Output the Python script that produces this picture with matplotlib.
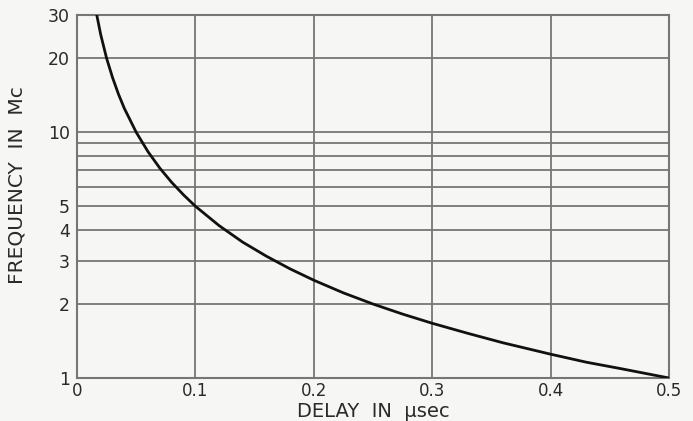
import matplotlib
matplotlib.use("Agg")
import matplotlib.pyplot as plt
from matplotlib.ticker import FixedLocator, NullFormatter, NullLocator

# values: delay (usec) vs frequency (Mc)
delay = [0.0167, 0.02, 0.025, 0.03, 0.035, 0.04, 0.05, 0.06, 0.07, 0.08, 0.09, 0.1,
         0.12, 0.14, 0.16, 0.18, 0.2, 0.225, 0.25, 0.275, 0.3, 0.33, 0.36, 0.4,
         0.43, 0.46, 0.5]
freq = [30, 25, 20, 16.7, 14.3, 12.5, 10, 8.33, 7.14, 6.25, 5.56, 5.0,
        4.17, 3.57, 3.13, 2.78, 2.5, 2.22, 2.0, 1.82, 1.67, 1.52, 1.39, 1.25,
        1.16, 1.09, 1.0]

y_grid = [1, 2, 3, 4, 5, 6, 7, 8, 9, 10, 20, 30]
y_labels = [1, 2, 3, 4, 5, 10, 20, 30]
x_ticks = [0, 0.1, 0.2, 0.3, 0.4, 0.5]
x_labels = ["0", "0.1", "0.2", "0.3", "0.4", "0.5"]

plt.rcParams["font.family"] = ["DejaVu Sans"]
fig = plt.figure(figsize=(6.93, 4.21), dpi=100)
fig.patch.set_facecolor("#f6f6f4")
ax = fig.add_axes([77 / 693, 1 - 378 / 421, 592 / 693, 363 / 421])
ax.set_facecolor("#f6f6f4")

ax.set_yscale("log")
ax.set_xlim(0, 0.5)
ax.set_ylim(1, 30)

gc = "#767676"
for v in y_grid:
    ax.axhline(v, color=gc, lw=1.3, zorder=1)
for v in x_ticks[1:-1]:
    ax.axvline(v, color=gc, lw=1.3, zorder=1)

ax.plot(delay, freq, color="#111111", lw=2.0, zorder=3)

for s in ax.spines.values():
    s.set_color(gc)
    s.set_linewidth(1.5)

ax.yaxis.set_major_locator(FixedLocator(y_labels))
ax.yaxis.set_minor_locator(NullLocator())
ax.yaxis.set_minor_formatter(NullFormatter())
ax.set_yticklabels([str(v) for v in y_labels])
ax.set_xticks(x_ticks)
ax.set_xticklabels(x_labels)
ax.tick_params(length=0, labelsize=12.5, colors="#2a2a2a", pad=5)
ax.tick_params(axis="x", labelsize=12, pad=3)

ax.set_xlabel("DELAY  IN  μsec", fontsize=14, color="#2a2a2a", labelpad=1)
ax.set_ylabel("FREQUENCY  IN  Mc", fontsize=14.5, color="#2a2a2a")
ax.yaxis.set_label_coords(-0.086, 0.53)

fig.savefig("out.png", dpi=100, facecolor=fig.get_facecolor())
